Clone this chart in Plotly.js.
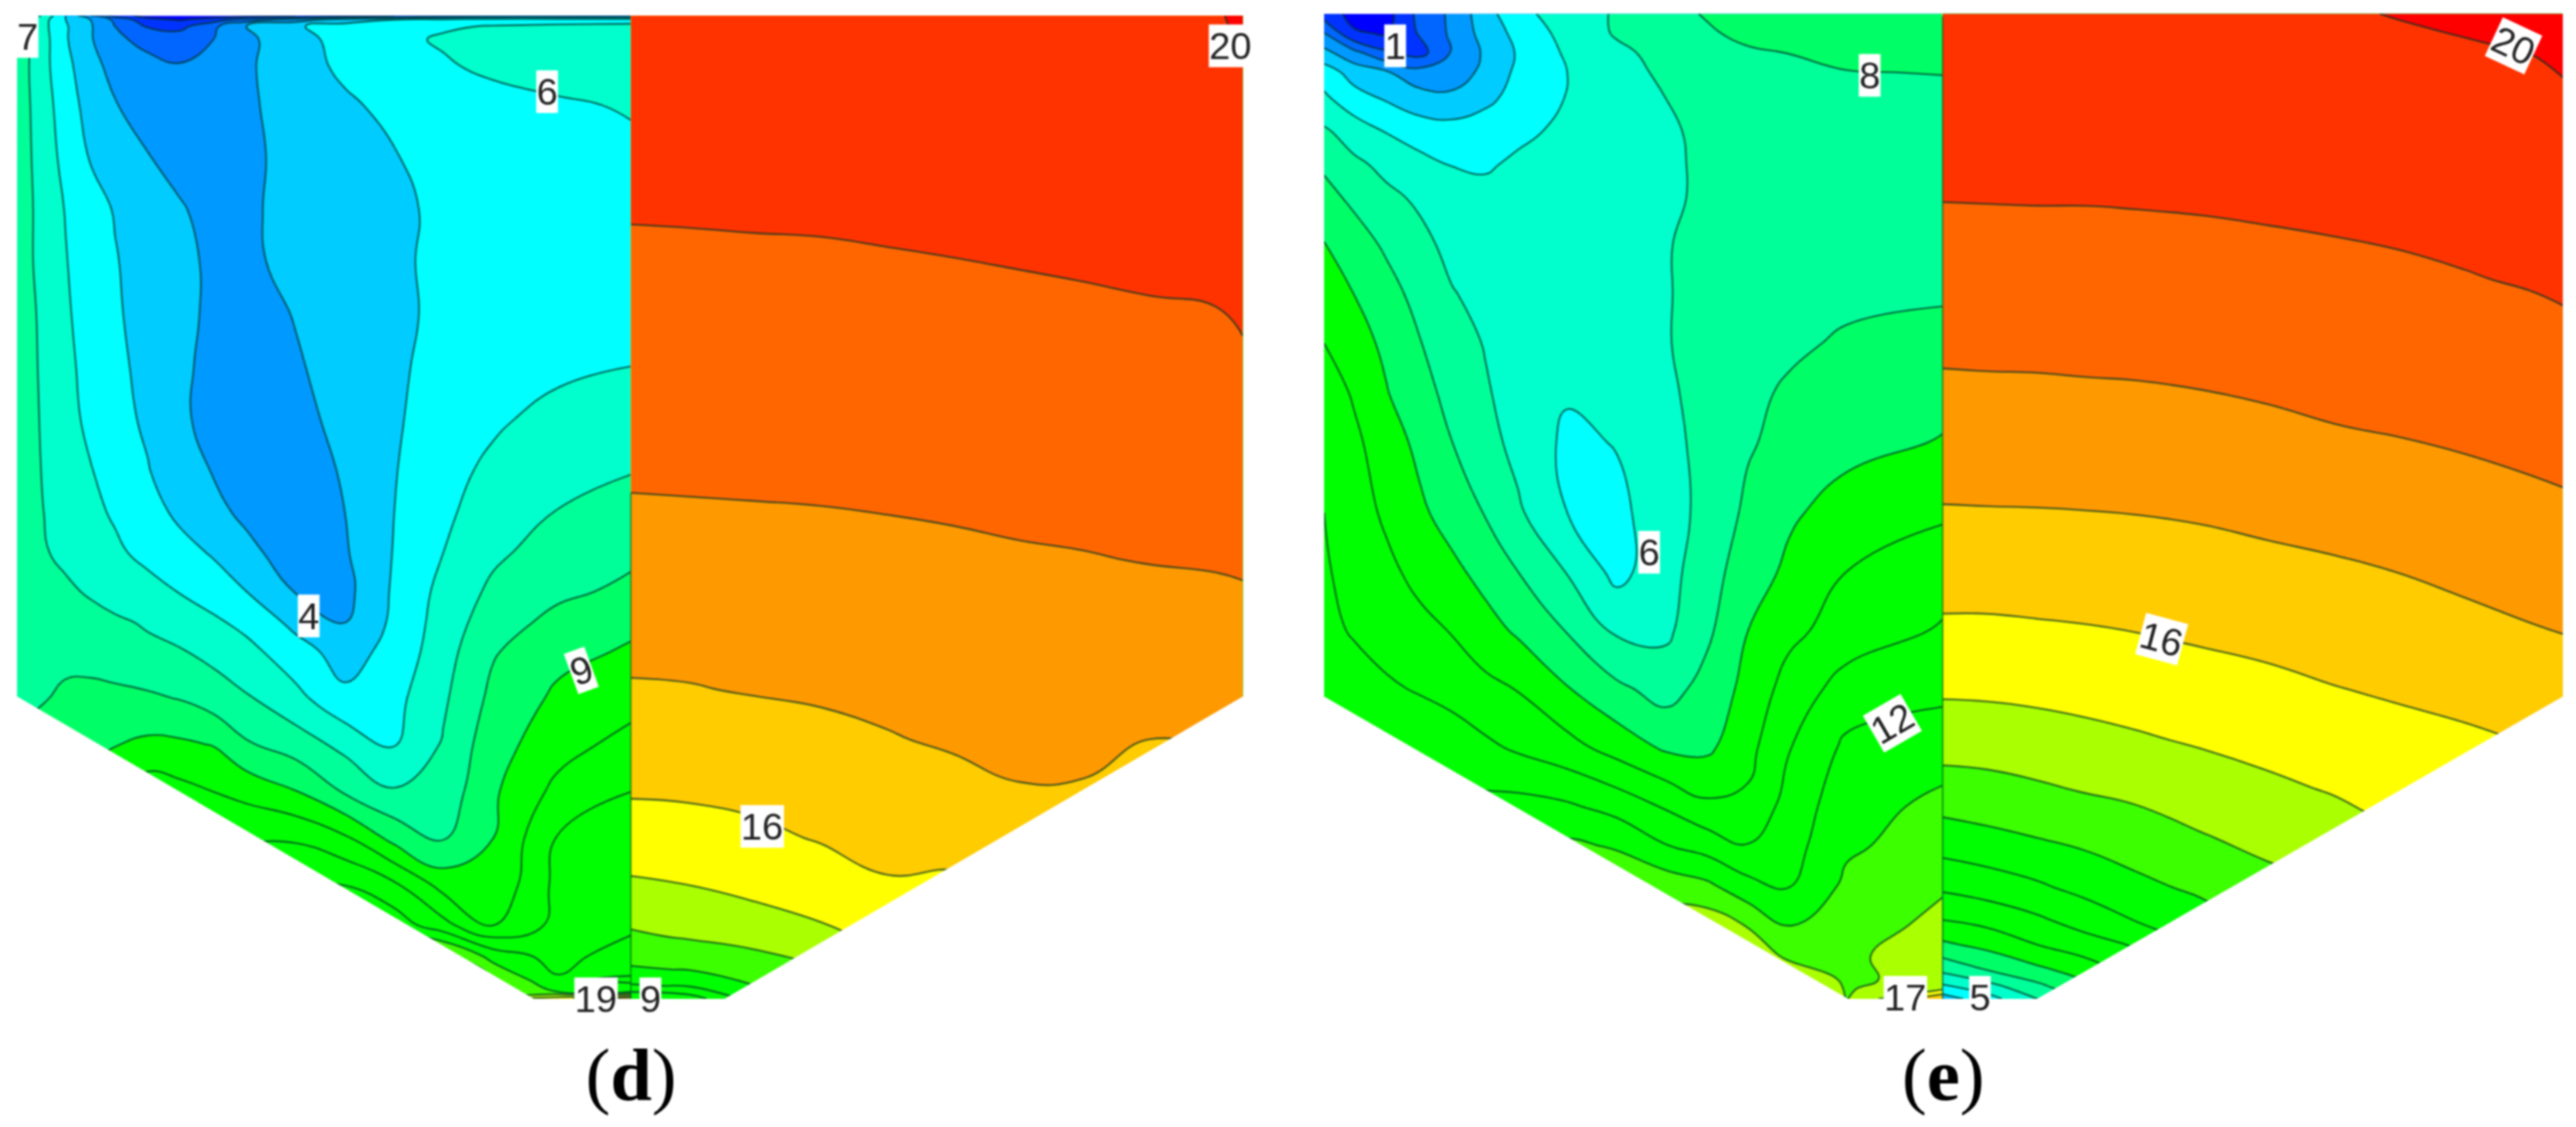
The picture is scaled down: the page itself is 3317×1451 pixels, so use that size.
<!DOCTYPE html>
<html>
<head>
<meta charset="utf-8">
<script src="https://cdn.plot.ly/plotly-3.0.1.min.js"></script>
<style>html,body{margin:0;padding:0;background:#fff}#plot{width:3317px;height:1451px;filter:blur(1px)}</style>
</head>
<body>
<div id="plot"></div>
<script>
// contour levels run 1..20, one colour per band between two levels
const bandColors = ["#0000ff","#0033ff","#0066ff","#0099ff","#00ccff","#00ffff","#00ffcc","#00ff99","#00ff66",
  "#00ff00","#00ff00","#00ff00","#00ff00","#3cff00","#aaff00","#ffff00","#ffcc00","#ff9900","#ff6600","#ff3300","#ff0000"];

// ===== panel (d), left half =====
const dLeftX = [10.5,25,40,55,70,90,110,130,150,180,210,240,270,300,340,384];
const dLeftY = [9.6,12,16,24,40,64,96,127.5,159,191,223,255,287,312,336,360,379,396,425,453,482,510.6,539,563,582,596,603,608];
const dLeftZ = [
  [8.5,7,5,3,1.5,0.6,0.3,0.3,0.5,1,1.5,2,2.5,3,3,3],
  [8,6.5,5,4,2.8,1.3,0.9,1.5,2.5,3.5,4.5,5,5.3,5.5,5.5,5.5],
  [7.8,6.4,5.1,4.1,3,1.9,1.7,2.8,4,4.9,5.4,5.7,5.9,6.05,6.2,6.3],
  [7.6,6.5,5.1,4.1,3.2,2.7,2.6,3,3.8,4.6,5.4,5.8,6.1,6.3,6.5,6.6],
  [7.6,6.4,5.3,4.3,3.7,3.3,3.05,3.3,3.85,4.6,5.2,5.6,5.9,6.2,6.5,6.7],
  [7.6,6.5,5.5,4.6,4.05,3.6,3.4,3.5,3.85,4.4,4.85,5.25,5.45,5.65,5.85,6.1],
  [7.6,6.6,5.7,4.95,4.4,4.05,3.6,3.5,3.8,4.3,4.65,4.95,5.3,5.5,5.65,5.75],
  [7.6,6.7,5.95,5.3,4.95,4.5,4.1,3.6,3.85,4.3,4.55,4.8,5.2,5.45,5.6,5.65],
  [7.6,6.7,6.05,5.4,5.05,4.65,4.2,3.85,3.8,4.3,4.55,4.85,5.2,5.45,5.6,5.7],
  [7.6,6.85,6.15,5.5,5.1,4.7,4.2,3.85,3.6,4.05,4.4,4.8,5.2,5.5,5.7,5.85],
  [7.6,6.9,6.25,5.65,5.2,4.75,4.2,3.7,3.5,3.9,4.4,4.85,5.3,5.55,5.8,6],
  [7.6,6.95,6.3,5.8,5.3,4.85,4.2,3.6,3.4,3.7,4.3,4.9,5.4,5.85,6.3,6.5],
  [7.6,7,6.5,6.05,5.65,5.05,4.45,3.95,3.5,3.5,4.1,4.95,5.7,6.2,6.6,6.95],
  [7.6,7.05,6.6,6.2,5.9,5.35,4.8,4.25,3.8,3.45,4,5,5.85,6.4,7.05,7.6],
  [7.5,7.1,6.8,6.5,6.15,5.75,5.3,4.9,4.25,3.5,3.9,5.05,6,6.8,7.45,7.8],
  [7.4,7.5,7.15,6.9,6.6,6.3,5.95,5.45,5,3.95,3.7,5.15,6.3,7.2,7.8,8.2],
  [7.5,7.6,7.5,7.3,7.15,6.9,6.55,6.2,5.7,4.75,4,5.2,6.45,7.55,8.3,8.8],
  [7.4,7.6,7.7,7.6,7.45,7.2,7.05,6.7,6.3,5.35,4.6,5.3,6.6,7.9,8.7,9.1],
  [7.3,7.9,8.2,8.3,8.25,8.15,7.95,7.5,7.1,6.3,5.2,5.7,6.85,8.25,9.2,9.6],
  [8.5,8.5,8.5,8.7,8.95,9.2,9.15,8.95,8.1,7.5,6.7,5.95,7.1,8.6,9.6,10.35],
  [8.6,8.8,9.1,9.5,10,10.6,10.3,10,9.7,9.05,7.9,7.1,7.4,8.85,10.3,11],
  [8.8,9,9.4,9.8,10.2,10.5,10.7,10.8,10.9,10.9,10.2,8.7,7.9,9,11.1,11.5],
  [9,9.4,9.8,10.2,10.6,11,11.4,11.7,12,12,12,11.2,9.65,9.2,11.3,11.8],
  [9.2,9.6,10,10.4,10.8,11.2,11.6,12,12.2,12.4,12.5,12.6,11.3,9.95,11.3,11.7],
  [9.6,10,10.4,10.8,11.2,11.6,12,12.4,12.8,13.2,13.6,14,14.5,12.6,11.6,12.6],
  [10,10.4,10.8,11.2,11.6,12,12.4,12.8,13.2,13.6,14,14.5,15,14,12.1,11.9],
  [10,10.4,10.8,11.2,11.6,12,12.4,12.8,13.2,13.6,14,14.5,15,14,12.8,12.2],
  [10,10.4,10.8,11.2,11.6,12,12.4,12.8,13.2,13.6,14,14.5,15,15,15.5,18]
];

// ===== panel (d), right half =====
const dRightX = [384,420,460,500,540,580,620,660,700,740,756.5];
const dRightY = [9.6,60,120,170,220,260,300,340,380,420,450,480,510,540,570,590,600,608];
const dRightZ = [
  [19.9,19.9,19.9,19.9,19.9,19.9,19.9,19.9,19.9,19.9,20.2],
  [19.55,19.55,19.55,19.55,19.55,19.6,19.65,19.7,19.7,19.75,19.85],
  [19.1,19.12,19.14,19.15,19.2,19.25,19.3,19.35,19.4,19.45,19.45],
  [18.8,18.8,18.82,18.84,18.87,18.91,18.96,19.01,19.06,19.1,19.2],
  [18.49,18.5,18.52,18.54,18.57,18.6,18.66,18.71,18.76,18.8,18.91],
  [18.25,18.26,18.28,18.3,18.34,18.37,18.42,18.47,18.51,18.56,18.65],
  [18,18.02,18.04,18.06,18.1,18.13,18.18,18.22,18.27,18.32,18.38],
  [17.66,17.68,17.72,17.76,17.8,17.87,17.93,17.97,18.03,18.07,18.11],
  [17.31,17.33,17.37,17.43,17.5,17.58,17.64,17.69,17.7,17.74,17.78],
  [16.93,16.96,17.05,17.11,17.2,17.3,17.37,17.4,17.3,17.42,17.5],
  [16.53,16.56,16.65,16.8,16.95,17.1,17.19,17.19,17,17.05,17.2],
  [16.12,16.16,16.26,16.43,16.62,16.76,16.97,16.95,16.8,16.9,17],
  [15.54,15.62,15.81,16.07,16.3,16.3,16.5,16.7,16.7,16.8,16.9],
  [14.84,14.97,15.25,15.5,15.9,15.85,16.2,16.5,16.6,16.7,16.8],
  [13.86,14.1,14.41,14.8,15.2,15.3,15.9,16.3,16.5,16.6,16.7],
  [12.9,13.05,13.4,14,14.8,15,15.7,16.2,16.4,16.5,16.6],
  [11.9,12.1,13,13.7,14.6,14.8,15.6,16.1,16.4,16.5,16.6],
  [10,10.5,12.5,13.5,14.4,14.6,15.5,16,16.4,16.5,16.6]
];

// ===== panel (e), left half =====
const eLeftX = [806,824,844,864,884,904,924,954,984,1014,1039,1064,1089,1124,1182.5];
const eLeftY = [8.4,20,32,44,60,80,100,120,149,179,209,239,269,312,348,384,419,455,491,515,539,563,582,596,602,608];
const eLeftZ = [
  [1.5,0.7,0.6,2.3,3.2,4.6,5.7,6.5,7.1,7.6,8.1,8.3,8.4,8.5,8.6],
  [3,1.1,0.9,2.1,3.2,4.4,5.3,6.35,7.1,7.4,7.85,8.3,8.5,8.7,8.8],
  [4.3,3.3,2.1,1.6,3.1,4.15,5.1,6.15,6.8,7.3,7.6,7.85,8.02,8.4,8.55],
  [5.5,4.6,4.1,3.4,3.35,4.3,5.2,6,6.6,7.2,7.45,7.6,7.75,7.95,8.05],
  [6.2,5.4,4.9,4.4,4.3,4.8,5.3,6.05,6.45,7,7.25,7.35,7.45,7.55,7.6],
  [7.15,6.55,5.95,5.55,5.4,5.45,5.75,6.25,6.6,6.9,7.15,7.25,7.3,7.4,7.4],
  [7.85,7.2,6.75,6.3,5.95,5.85,6.2,6.5,6.7,6.9,7.1,7.2,7.25,7.3,7.3],
  [8.3,7.8,7.2,6.85,6.55,6.35,6.3,6.4,6.6,6.9,7.1,7.2,7.25,7.3,7.3],
  [9.05,8.45,7.85,7.25,6.75,6.45,6.35,6.4,6.6,6.95,7.25,7.4,7.5,7.6,7.7],
  [9.6,9,8.35,7.7,7.05,6.75,6.55,6.55,6.7,6.95,7.25,7.45,7.6,7.75,7.9],
  [10,9.4,8.8,8.05,7.4,6.95,6.7,6.65,6.75,6.95,7.3,7.55,7.8,8.15,8.3],
  [10.5,9.9,9.05,8.35,7.7,7.1,6.6,6.1,6.5,6.85,7.3,7.75,8.15,8.55,8.75],
  [11,10.2,9.5,8.75,8,7.35,6.7,5.8,6.05,6.7,7.3,7.9,8.3,8.7,9.05],
  [11,10.4,9.85,9.2,8.55,7.95,7.15,6,5.75,6.55,7.3,8.2,8.85,9.4,9.85],
  [11.1,10.7,10.2,9.75,9.25,8.65,8,6.95,5.7,6.6,7.6,8.5,9.2,10,10.6],
  [11.3,10.9,10.55,10.25,9.95,9.4,8.85,7.95,6.85,6.8,7.8,9,9.75,10.45,11.1],
  [11.8,11.5,11.15,10.9,10.6,10.25,9.95,9.05,8.2,7.6,8.35,9.3,10.4,11.4,11.75],
  [11.8,11.8,11.8,11.8,11.6,11.2,10.85,10.35,9.6,8.85,8.8,9.7,10.95,12.2,12.55],
  [12,12,12,12.1,12.2,12.3,12.35,12.15,11.65,10.9,10.2,10.2,11.4,12.6,13.25],
  [12,12.1,12.2,12.3,12.4,12.6,12.8,13.2,12.9,12.05,11.6,11.05,11.6,12.85,13.45],
  [12.2,12.3,12.4,12.5,12.6,12.8,13,13.5,13.8,13.6,13.2,12.3,11.95,13.2,13.85],
  [12.4,12.5,12.6,12.7,12.8,13,13.2,13.8,14.3,14.5,14.6,13.9,12.95,13.35,14.35],
  [12.6,12.7,12.8,13,13.2,13.4,13.6,14,14.5,15,15.2,15.4,13.6,13.8,14.6],
  [12.8,13,13.2,13.4,13.6,13.8,14,14.5,15,15.2,15.4,15.6,15.6,13.7,14.6],
  [12.8,13,13.2,13.4,13.6,13.8,14,14.5,15,15.2,15.4,15.6,15.6,13.9,14.9],
  [12.8,13,13.2,13.4,13.6,13.8,14,14.5,15,15.2,15.4,15.6,15.6,14,17]
];

// ===== panel (e), right half =====
const eRightX = [1182.5,1210,1240,1270,1300,1340,1380,1420,1460,1500,1540,1560];
const eRightY = [8.4,30,60,120,170,220,260,300,340,380,420,450,480,510,540,560,575,590,600,608];
const eRightZ = [
  [19.95,19.95,19.95,19.95,19.95,19.95,19.95,19.95,20.02,20.1,20.5,20.7],
  [19.75,19.75,19.75,19.75,19.75,19.8,19.8,19.85,19.9,19.95,20.02,20.2],
  [19.55,19.55,19.55,19.55,19.55,19.6,19.6,19.65,19.65,19.7,19.8,19.85],
  [19.03,19.04,19.05,19.05,19.07,19.1,19.15,19.2,19.25,19.3,19.4,19.45],
  [18.54,18.55,18.57,18.58,18.6,18.65,18.71,18.78,18.86,18.96,19.06,19.14],
  [18.05,18.07,18.08,18.11,18.13,18.19,18.26,18.34,18.42,18.52,18.63,18.7],
  [17.58,17.6,17.62,17.65,17.68,17.75,17.86,17.98,18.07,18.17,18.27,18.33],
  [17.1,17.12,17.13,17.15,17.18,17.25,17.36,17.48,17.6,17.75,17.9,17.97],
  [16.52,16.53,16.55,16.59,16.64,16.73,16.86,16.97,17.11,17.29,17.44,17.52],
  [15.9,15.9,15.95,16,16.08,16.22,16.33,16.47,16.61,16.8,16.99,17.07],
  [15.13,15.16,15.23,15.32,15.43,15.59,15.77,15.96,16.11,16.29,16.47,16.6],
  [14.44,14.48,14.6,14.75,14.9,15.11,15.31,15.51,15.72,15.85,16.05,16.2],
  [13.61,13.7,13.88,14.08,14.23,14.54,14.82,15.07,15.33,15.4,15.6,15.9],
  [12.56,12.78,13,13.25,13.53,13.93,14.27,14.55,14.9,15,15.3,15.7],
  [11.18,11.47,11.85,12.31,12.75,13.2,13.7,14,14.5,14.7,15,15.4],
  [10,10.33,10.83,11.45,12.04,12.6,13.4,13.8,14.3,14.5,14.9,15.2],
  [8.82,9.3,10,10.6,11.1,12.3,13.2,13.7,14.2,14.4,14.8,15.1],
  [7.3,8.08,8.8,9.5,10.5,12,13,13.6,14.1,14.3,14.7,15],
  [5.9,6.7,7.8,8.8,10,11.8,12.9,13.5,14,14.2,14.6,15],
  [4.5,5.6,7,8.2,9.6,11.6,12.8,13.4,14,14.1,14.6,15]
];

// contour labels as printed on the figure
const labelText = ["7","6","4","9","16","20","19","9","1","8","6","12","17","5","16","20"];
const labelX = [17,333,188,354,464,749,363,396,849,1138,1004,1152,1160,1205,1316,1530];
const labelY = [22,56,375,408,503,28,608,608,28,46,336,440,607,607,389,28];
const labelAngle = [0,0,0,-20,0,0,0,0,0,0,0,-30,0,0,15,25];

const panelCaptions = ["(<b>d</b>)","(<b>e</b>)"];
const captionX = [384,1183];

const scale = bandColors.map((c, i) => [i / (bandColors.length - 1), c]);

function half(x, y, z) {
  return {
    type: "contour", x: x, y: y, z: z,
    autocontour: false,
    contours: { start: 1, end: 20, size: 1, coloring: "fill", showlines: true },
    line: { color: "rgba(0,50,40,0.65)", width: 2.6, smoothing: 1.3 },
    colorscale: scale,
    showscale: false,
    hoverinfo: "skip"
  };
}

// white polygons trim the rectangular grids down to the pentagon outline
function mask(pts) {
  return { type: "path", path: "M" + pts.map(p => p.join(",")).join("L") + "Z",
    xref: "x", yref: "y", fillcolor: "#fff", line: { width: 0 }, layer: "above" };
}

function wall(x, y0) {
  return { type: "line", xref: "x", yref: "y", x0: x, x1: x, y0: y0, y1: 608,
    line: { color: "rgba(0,60,20,0.55)", width: 2 }, layer: "above" };
}

const annotations = labelText.map((t, i) => ({
  x: labelX[i], y: labelY[i], text: t, showarrow: false, textangle: labelAngle[i],
  font: { family: "Liberation Sans, Arial, sans-serif", size: 49, color: "#222" },
  bgcolor: "#fff", borderpad: 0
})).concat(panelCaptions.map((t, i) => ({
  x: captionX[i], y: 654, text: t, showarrow: false,
  font: { family: "Liberation Serif, serif", size: 96, color: "#000" }
})));

const layout = {
  width: 3317, height: 1451,
  margin: { l: 0, r: 0, t: 0, b: 0 },
  paper_bgcolor: "#fff", plot_bgcolor: "#fff",
  showlegend: false,
  xaxis: { visible: false, range: [0, 1568], fixedrange: true },
  yaxis: { visible: false, range: [686, 0], fixedrange: true },
  shapes: [
    mask([[4,424],[10.5,424],[325,608],[325,614],[4,614]]),
    mask([[441,608],[756.5,424],[762,424],[762,614],[441,614]]),
    mask([[800,424],[806,424],[1125,608],[1125,614],[800,614]]),
    mask([[1240,608],[1560,424],[1566,424],[1566,614],[1240,614]]),
    wall(384, 300),
    wall(1182.5, 10)
  ],
  annotations: annotations
};

Plotly.newPlot("plot", [
  half(dLeftX, dLeftY, dLeftZ),
  half(dRightX, dRightY, dRightZ),
  half(eLeftX, eLeftY, eLeftZ),
  half(eRightX, eRightY, eRightZ)
], layout, { staticPlot: true });
</script>
</body>
</html>
